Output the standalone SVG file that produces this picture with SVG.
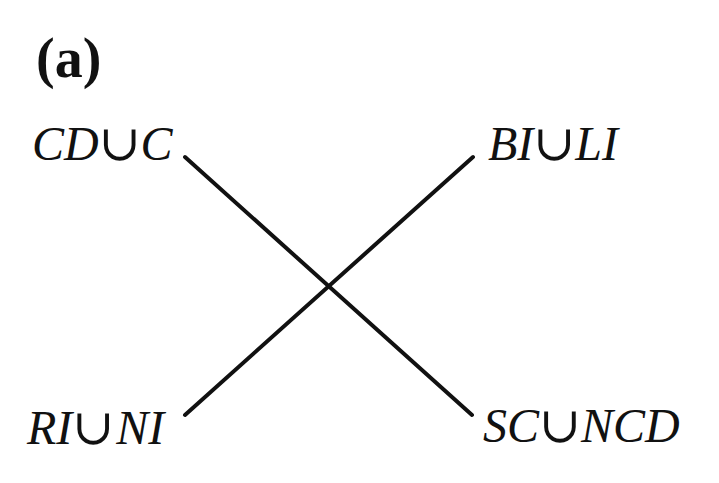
<svg xmlns="http://www.w3.org/2000/svg" width="719" height="483" viewBox="0 0 719 483">
<style>
.lbl{font-family:"Liberation Serif","Times New Roman",serif;font-style:italic;font-size:48px;fill:#111}
.cup{font-family:"DejaVu Serif","Liberation Serif",serif;font-style:normal;font-weight:normal;font-size:50px}
.title{font-family:"Liberation Serif","Times New Roman",serif;font-weight:bold;font-size:56px;fill:#111}
.edge{stroke:#111;stroke-width:4;stroke-linecap:round;fill:none}
</style>
<rect width="719" height="483" fill="#fff"/>
<text class="title" x="36" y="77">(a)</text>
<g id="connectors">
<line class="edge" x1="185" y1="157" x2="472" y2="415"/>
<line class="edge" x1="473" y1="157" x2="185" y2="415"/>
</g>
<g id="node-cdc"><text class="lbl" x="32" y="160">CD<tspan class="cup">∪</tspan>C</text></g>
<g id="node-bili"><text class="lbl" x="488" y="160">BI<tspan class="cup">∪</tspan>LI</text></g>
<g id="node-rini"><text class="lbl" x="27" y="444">RI<tspan class="cup">∪</tspan><tspan dx="2">NI</tspan></text></g>
<g id="node-scncd"><text class="lbl" x="483" y="442">SC<tspan class="cup">∪</tspan>NCD</text></g>
</svg>
